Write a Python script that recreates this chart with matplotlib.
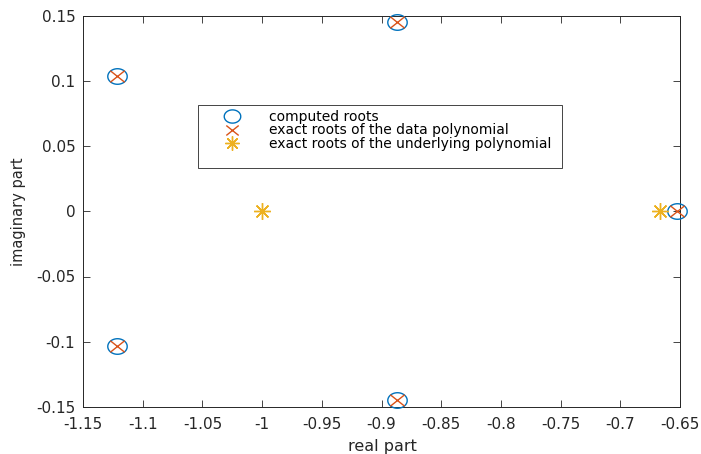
import numpy as np
import matplotlib.pyplot as plt
from matplotlib.path import Path
from matplotlib.patches import Rectangle

plt.rcParams['font.family'] = ['DejaVu Sans']

# roots
computed_re = [-1.1215, -1.1215, -0.8866, -0.8866, -0.6525]
computed_im = [0.1033, -0.1033, 0.1450, -0.1450, 0.0]
data_re = [-1.1215, -1.1215, -0.8866, -0.8866, -0.6525]
data_im = [0.1033, -0.1033, 0.1450, -0.1450, 0.0]
under_re = [-1.0, -2.0 / 3.0]
under_im = [0.0, 0.0]

xticks = [-1.15, -1.1, -1.05, -1, -0.95, -0.9, -0.85, -0.8, -0.75, -0.7, -0.65]
xticklabels = ['-1.15', '-1.1', '-1.05', '-1', '-0.95', '-0.9', '-0.85', '-0.8', '-0.75', '-0.7', '-0.65']
yticks = [-0.15, -0.1, -0.05, 0, 0.05, 0.1, 0.15]
yticklabels = ['-0.15', '-0.1', '-0.05', '0', '0.05', '0.1', '0.15']

blue = '#0072BD'
red = '#D95319'
yellow = '#EDB120'
dark = '#262626'

# the original export is stretched sideways, so markers are a bit wider than tall
t = np.linspace(0, 2 * np.pi, 60)
ellipse = np.column_stack([1.25 * np.cos(t), np.sin(t)])
cross = Path([(-1.25, -1), (1.25, 1), (-1.25, 1), (1.25, -1)],
             [Path.MOVETO, Path.LINETO, Path.MOVETO, Path.LINETO])

fig = plt.figure(figsize=(7.01, 4.54), dpi=100)
ax = fig.add_axes([83 / 701, 1 - 407 / 454, 597 / 701, 391.5 / 454])

ax.plot(computed_re, computed_im, linestyle='none', marker=ellipse, markersize=14,
        markerfacecolor='none', markeredgecolor=blue, markeredgewidth=1.0,
        clip_on=False, zorder=3, label='computed roots')
ax.plot(data_re, data_im, linestyle='none', marker=cross, markersize=10.5,
        color=red, markeredgewidth=1.0, clip_on=False, zorder=3,
        label='exact roots of the data polynomial')
ax.plot(under_re, under_im, linestyle='none', marker=(8, 2, 0), markersize=12,
        color=yellow, markeredgewidth=1.0, clip_on=False, zorder=3,
        label='exact roots of the underlying polynomial')

ax.set_xlim(-1.15, -0.65)
ax.set_ylim(-0.15, 0.15)
ax.set_xticks(xticks)
ax.set_xticklabels(xticklabels)
ax.set_yticks(yticks)
ax.set_yticklabels(yticklabels)
ax.tick_params(direction='in', length=5, width=0.6, top=True, right=True,
               labelsize=11, colors=dark)
ax.tick_params(axis='x', pad=7)
ax.tick_params(axis='y', pad=5.5)
for s in ax.spines.values():
    s.set_linewidth(0.7)
    s.set_color(dark)

ax.set_xlabel('real part', fontsize=11.5, color=dark)
ax.set_ylabel('imaginary part', fontsize=10.5, color=dark)
ax.xaxis.set_label_coords(0.502, -0.083)
ax.yaxis.set_label_coords(-0.096, 0.5)

# legend frame drawn separately (MATLAB leaves extra room under the entries)
ax.add_patch(Rectangle(((198 - 83) / 597, (407 - 168) / 391.5), 364 / 597, 63 / 391.5,
                       transform=ax.transAxes, facecolor='white', edgecolor=dark,
                       linewidth=0.6, zorder=4))
leg = ax.legend(loc='upper left', bbox_to_anchor=((212 - 83) / 597, (407 - 106) / 391.5),
                borderaxespad=0, fontsize=10, frameon=False,
                handlelength=2.3, handletextpad=1.5, labelspacing=-0.05,
                borderpad=0.3, numpoints=1, markerscale=0.85)
leg.set_zorder(5)

fig.savefig('out.png', dpi=100)
